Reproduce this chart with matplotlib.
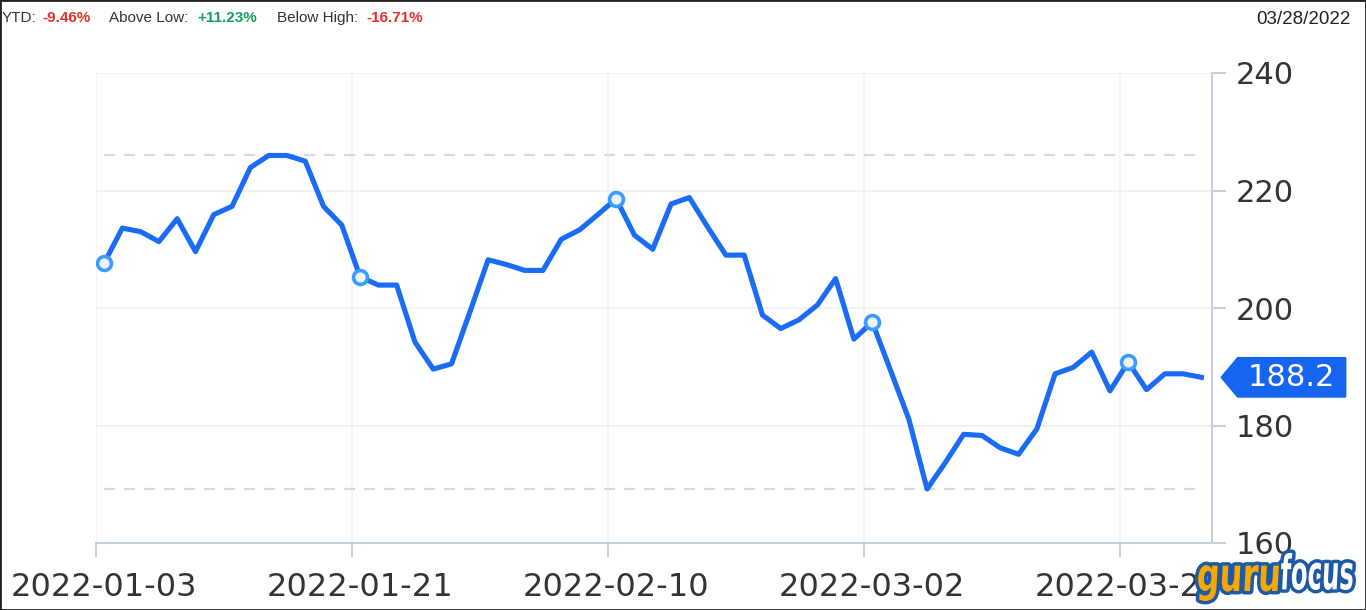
import numpy as np
import matplotlib.pyplot as plt
from matplotlib.patches import Polygon, PathPatch, Rectangle
from matplotlib.textpath import TextPath
from matplotlib.font_manager import FontProperties
from matplotlib.transforms import Affine2D, IdentityTransform

# data (one point per weekday, 2022-01-03 .. 2022-03-28)
price = [207.6, 213.6, 213.0, 211.3, 215.2, 209.6, 215.9, 217.3, 223.9, 225.96,
         225.96, 225.0, 217.3, 214.1, 205.3, 203.9, 203.9, 194.2, 189.6, 190.5,
         199.3, 208.2, 207.4, 206.4, 206.4, 211.7, 213.3, 215.9, 218.6, 212.4,
         210.0, 217.7, 218.8, 213.8, 209.0, 209.0, 198.8, 196.5, 198.0, 200.5,
         205.0, 194.7, 197.6, 189.4, 181.1, 169.2, 173.7, 178.5, 178.3, 176.2,
         175.1, 179.4, 188.8, 189.9, 192.5, 185.9, 190.8, 186.1, 188.8, 188.8, 188.2]
label_idx = [0, 14, 28, 42, 56]
label_dates = ['2022-01-03', '2022-01-21', '2022-02-10', '2022-03-02', '2022-03-22']
yticks = [160, 180, 200, 220, 240]

ytd = '-9.46%'
above_low = '+11.23%'
below_high = '-16.71%'
as_of = '03/28/2022'

W, H = 1366, 610
BLUE = '#1a6cf6'
AXC = '#c6cedb'
TXT = '#333333'

fig = plt.figure(figsize=(W / 100, H / 100), dpi=100)
ax = fig.add_axes([95.8 / W, 67 / H, 1116.6 / W, 470 / H])

x = np.arange(len(price))
ax.hlines([max(price), min(price)], 0, len(price) - 1, colors='#d5dae2',
          linestyles=(0, (5, 4)), lw=1.6, zorder=1)
ax.plot(x, price, color=BLUE, lw=3.7, solid_joinstyle='round', zorder=3)
ax.plot(label_idx, [price[i] for i in label_idx], 'o', ms=10, mfc='#eaf4ff',
        mec='#3d9cff', mew=2.6, zorder=4)

ax.set_xlim(-0.45, 60.6)
ax.set_ylim(160, 240)
ax.set_yticks(yticks)
ax.yaxis.tick_right()
ax.set_xticks(label_idx)
ax.set_xticklabels(label_dates)
ax.set_xticks(np.array(label_idx) - 0.45, minor=True)
ax.tick_params(axis='x', which='major', length=0, labelsize=23, pad=21, labelcolor=TXT)
ax.tick_params(axis='x', which='minor', length=10, width=1.5, color=AXC)
ax.tick_params(axis='y', length=10, width=1.5, color=AXC, labelsize=22,
               labelcolor=TXT, pad=7)
ax.yaxis.grid(True, color='#f0f0f0', lw=1.2)
ax.xaxis.grid(True, which='minor', color='#f3f3f3', lw=1.2)
ax.set_axisbelow(True)
for s in ['top', 'left']:
    ax.spines[s].set_visible(False)
for s in ['right', 'bottom']:
    ax.spines[s].set_color(AXC)
    ax.spines[s].set_linewidth(1.5)

# last price tag
yc = ax.transData.transform((0, price[-1]))[1]
tag = Polygon([(1222, yc), (1238, yc + 19), (1345, yc + 19), (1345, yc - 19), (1238, yc - 19)],
              closed=True, fc='#1565f0', ec='#1565f0', lw=2, joinstyle='round',
              transform=IdentityTransform())
fig.add_artist(tag)
fig.text(1291 / W, yc / H, f'{price[-1]:.1f}', ha='center', va='center',
         color='white', fontsize=22)

# header
hdr = dict(fontsize=11, family='Liberation Sans', va='center')
fig.text(2 / W, 1 - 18 / H, 'YTD:', color=TXT, **hdr)
fig.text(42 / W, 1 - 18 / H, ytd, color='#e0322b', weight='bold', **hdr)
fig.text(109 / W, 1 - 18 / H, 'Above Low:', color=TXT, **hdr)
fig.text(197 / W, 1 - 18 / H, above_low, color='#10a05a', weight='bold', **hdr)
fig.text(277 / W, 1 - 18 / H, 'Below High:', color=TXT, **hdr)
fig.text(366 / W, 1 - 18 / H, below_high, color='#e0322b', weight='bold', **hdr)
fig.text(1351 / W, 1 - 20 / H, as_of, color='#222222', fontsize=13.5,
         family='Liberation Sans', ha='right', va='center')


# logo
def logo_word(s, color, x0, x1, ytop, ybot):
    fp = FontProperties(family='DejaVu Sans', weight='bold', stretch='condensed')
    tp = TextPath((0, 0), s, size=50, prop=fp)
    ext = tp.get_extents()
    tr = (Affine2D().translate(-ext.x0, -ext.y0)
          .scale((x1 - x0) / ext.width, (ybot - ytop) / ext.height)
          .skew_deg(3, 0).translate(x0, H - ybot))
    path = tr.transform_path(tp)
    fig.add_artist(PathPatch(path, fc='#1d5aa6', ec='#1d5aa6', lw=5,
                             joinstyle='round', transform=IdentityTransform(), zorder=10))
    fig.add_artist(PathPatch(path, fc=color, ec='none',
                             transform=IdentityTransform(), zorder=11))


logo_word('guru', '#f7a800', 1197, 1277, 565, 601)
logo_word('focus', 'white', 1280, 1352, 553, 590)

fig.add_artist(Rectangle((0, 0), 1, 1, transform=fig.transFigure, fill=False,
                         ec='#222222', lw=2))

fig.savefig('out.png', dpi=100)
